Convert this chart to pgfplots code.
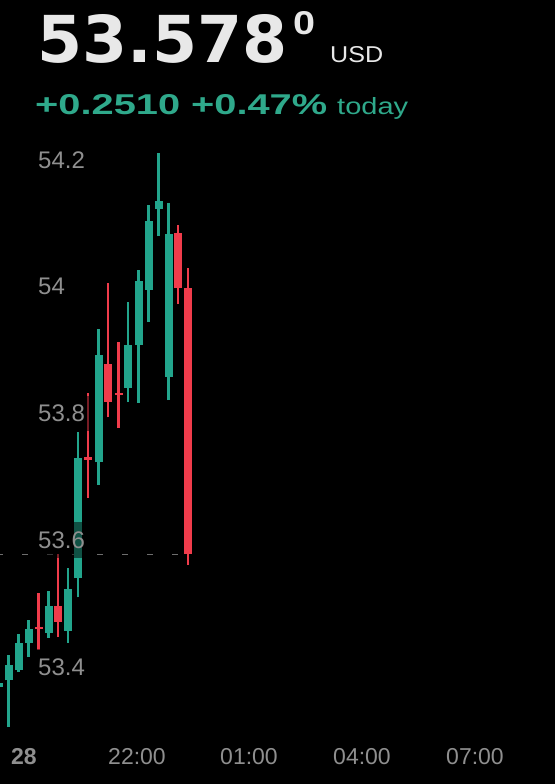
\documentclass[border=0pt]{standalone}
\usepackage{fontspec}
\setmainfont{Liberation Sans}
\newfontfamily\hdr{DejaVu Sans}
\usepackage{graphicx}
\usepackage{pgfplots}
\pgfplotsset{compat=1.18}
\usepackage{pgfplotstable}

\definecolor{cg}{HTML}{22A58C}
\definecolor{cr}{HTML}{F03C4B}
\definecolor{lbl}{HTML}{8F8F8F}
\definecolor{titlec}{HTML}{E8E8E8}
\definecolor{gtext}{HTML}{2FA98B}
\definecolor{dashc}{HTML}{6E6E6E}

% green (rising) candles: x low high open close
\pgfplotstableread{
x     low     high    open    close
-1.5  53.364  53.379  53.3685 53.3747
8.5   53.305  53.419  53.379  53.403
18.5  53.392  53.452  53.395  53.438
28.5  53.416  53.474  53.438  53.460
48.5  53.446  53.520  53.454  53.496
68    53.438  53.556  53.457  53.523
78    53.510  53.771  53.540  53.730
98.5  53.687  53.933  53.723  53.892
128   53.818  53.976  53.840  53.908
138.5 53.817  54.026  53.908  54.009
148.5 53.944  54.129  53.995  54.104
158.5 54.080  54.211  54.123  54.135
168.5 53.821  54.132  53.858  54.083
}\greendata

% red (falling) candles: x low high open close
\pgfplotstableread{
x     low     high    open    close
38.5  53.427  53.517  53.463  53.460
58    53.447  53.578  53.496  53.471
88    53.667  53.832  53.731  53.727
108   53.794  54.006  53.878  53.818
118.5 53.777  53.913  53.832  53.829
178   53.973  54.097  54.085  53.998
188   53.561  54.030  53.998  53.578
}\reddata

\begin{document}
\begin{tikzpicture}
\path[use as bounding box, fill=black] (0,0) rectangle (555pt,784pt);
\begin{axis}[
  width=555pt, height=784pt, scale only axis,
  xmin=0, xmax=555, ymin=53.21538, ymax=54.45247,
  axis line style={draw=none}, tick style={draw=none},
  major tick length=0pt,
  axis on top,
  ytick={53.4,53.6,53.8,54,54.2},
  yticklabels={53.4,53.6,53.8,54,54.2},
  yticklabel style={anchor=west, xshift=31pt,
    font=\fontsize{24}{24}\selectfont, text=lbl,
    fill=black, fill opacity=0.5, text opacity=1,
    inner xsep=7pt, inner ysep=9.4pt},
  xtick={24,137,249,362,475},
  xticklabels={\textbf{28},22:00,01:00,04:00,07:00},
  xticklabel style={anchor=center, yshift=27pt,
    font=\fontsize{23}{23}\selectfont, text=lbl, inner sep=0pt},
]
% last price line
\addplot[dashc, line width=1.3pt, dash pattern=on 6pt off 19pt, dash phase=3pt, forget plot]
  coordinates {(0,53.578) (186,53.578)};

% wicks
\addplot[draw=none, mark=none, forget plot,
  error bars/.cd, y dir=plus, y explicit, error mark=none,
  error bar style={draw=cg, line width=2.2pt}]
  table[x=x, y=low, y error expr=\thisrow{high}-\thisrow{low}] {\greendata};
\addplot[draw=none, mark=none, forget plot,
  error bars/.cd, y dir=plus, y explicit, error mark=none,
  error bar style={draw=cr, line width=2.2pt}]
  table[x=x, y=low, y error expr=\thisrow{high}-\thisrow{low}] {\reddata};
% bodies
\addplot[draw=none, mark=none, forget plot,
  error bars/.cd, y dir=plus, y explicit, error mark=none,
  error bar style={draw=cg, line width=8pt}]
  table[x=x, y=open, y error expr=\thisrow{close}-\thisrow{open}] {\greendata};
\addplot[draw=none, mark=none, forget plot,
  error bars/.cd, y dir=plus, y explicit, error mark=none,
  error bar style={draw=cr, line width=8pt}]
  table[x=x, y=close, y error expr=\thisrow{open}-\thisrow{close}] {\reddata};
\end{axis}

% header
\node[anchor=base west, inner sep=0pt, text=titlec] at (37pt,721pt)
  {\resizebox{250pt}{48pt}{\hdr\bfseries 53.578}};
\node[anchor=base west, inner sep=0pt, text=titlec] at (293pt,749pt)
  {\resizebox{22pt}{23pt}{\bfseries 0}};
\node[anchor=base west, inner sep=0pt, text=titlec] at (330pt,721pt)
  {\resizebox{53pt}{16pt}{USD}};
\node[anchor=base west, inner sep=0pt, text=gtext] at (35pt,669pt)
  {\resizebox{292pt}{20pt}{\bfseries +0.2510 +0.47\%}};
\node[anchor=base west, inner sep=0pt, text=gtext] at (337pt,669pt)
  {\resizebox{71pt}{17pt}{today}};
\end{tikzpicture}
\end{document}
